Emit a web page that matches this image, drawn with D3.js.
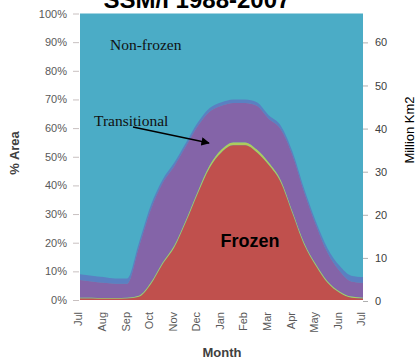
<!DOCTYPE html>
<html>
<head>
<meta charset="utf-8">
<script src="https://cdn.jsdelivr.net/npm/d3@7/dist/d3.min.js"></script>
<style>
  html, body { margin: 0; padding: 0; background: #ffffff; }
  svg { display: block; }
</style>
</head>
<body>
<svg id="chart" width="417" height="361"></svg>
<script>
// ---- data (percent of area, sampled every half month from 1 Jul) ----
const monthLabels = ["Jul","Aug","Sep","Oct","Nov","Dec","Jan","Feb","Mar","Apr","May","Jun","Jul"];
const samplePos = [0,0.5,1,1.5,2,2.5,3,3.5,4,4.5,5,5.5,6,6.5,7,7.5,8,8.5,9,9.5,10,10.5,11,11.5,12];
const frozen       = [0.5,0.5,0.4,0.4,0.5,1.1,5.4,12.4,18.3,27.3,37.2,46.1,51.5,54,54,51.5,47.1,41.2,30.3,19.3,11.9,5.9,2.5,0.8,0.5];
const inverse      = [0.3,0.3,0.3,0.3,0.3,0.4,0.6,0.6,0.7,0.7,0.8,0.9,1.0,1.0,1.0,1.0,0.9,0.8,0.7,0.7,0.6,0.6,0.5,0.4,0.3];
const transitional = [6.2,5.7,5.3,5.0,4.9,17,25.5,27.8,27.8,25.8,22.8,18.8,15.3,13.8,13.8,15.3,15.3,17.8,19.8,17.8,13.8,10,7.2,5.3,5.2];
const mixed        = [2,2,2,1.8,1.8,1.5,1.5,1.2,1.2,1.2,1.2,1.2,1.2,1.2,1.2,1.2,1.2,1.2,1.2,1.2,1.2,1.5,1.8,2,2];
const nonFrozen    = [91,91.5,92,92.5,92.5,80,67,58,52,45,38,33,31,30,30,31,35.5,39,48,61,72.5,82,88,91.5,92];
const pctTicks = [0,10,20,30,40,50,60,70,80,90,100];
const kmTicks = [0,10,20,30,40,50,60];

const seriesKeys = ["frozen","inverse","transitional","mixed","nonFrozen"];
const seriesData = {frozen, inverse, transitional, mixed, nonFrozen};
const colors = {frozen:"#C0504D", inverse:"#AECB5C", transitional:"#8464A8", mixed:"#5A80C2", nonFrozen:"#4BACC6"};

const table = samplePos.map((p,i) => {
  const row = {pos: p};
  seriesKeys.forEach(k => row[k] = seriesData[k][i]);
  return row;
});

const svg = d3.select("#chart");
const x = d3.scaleLinear().domain([0,12]).range([80,363]);
const y = d3.scaleLinear().domain([0,100]).range([300,13.5]);
const yR = d3.scaleLinear().domain([0,66.7]).range([301,13.5]);

const stack = d3.stack().keys(seriesKeys);
const layers = stack(table);

const area = d3.area()
  .x(d => x(d.data.pos))
  .y0(d => y(d[0]))
  .y1(d => y(Math.min(100, d[1])))
  .curve(d3.curveMonotoneX);

svg.append("g").selectAll("path")
  .data(layers.slice().reverse())
  .join("path")
  .attr("d", (l) => {
    if (l.key === "nonFrozen") {
      return d3.area().x(d => x(d.data.pos)).y0(y(0)).y1(y(100))(l);
    }
    return area(l);
  })
  .attr("fill", l => colors[l.key]);

// left axis
const yAxis = d3.axisLeft(y).tickValues(pctTicks).tickFormat(d => d + "%").tickSize(6).tickPadding(6);
const gL = svg.append("g").attr("transform","translate(79,0)").call(yAxis);
gL.select(".domain").remove();
gL.selectAll(".tick line").attr("stroke","#c8c0c0");
gL.selectAll(".tick text").attr("fill","#595959").style("font-family","Liberation Sans, Arial, sans-serif").style("font-size","11px");

// right axis
const yAxisR = d3.axisRight(yR).tickValues(kmTicks).tickSize(5).tickPadding(7);
const gR = svg.append("g").attr("transform","translate(363,0)").call(yAxisR);
gR.select(".domain").remove();
gR.selectAll(".tick line").attr("stroke","#b0b0b0");
gR.selectAll(".tick text").attr("fill","#404040").style("font-family","Liberation Sans, Arial, sans-serif").style("font-size","11px");

// bottom axis
const xAxis = d3.axisBottom(x).tickValues(d3.range(13)).tickFormat(i => monthLabels[i]).tickSize(0).tickPadding(0);
const gB = svg.append("g").attr("transform","translate(-2,300)").call(xAxis);
gB.select(".domain").remove();
gB.selectAll(".tick text")
  .attr("fill","#595959")
  .style("font-family","Liberation Sans, Arial, sans-serif").style("font-size","11px")
  .attr("text-anchor","end")
  .attr("dy","0.35em")
  .attr("transform","translate(0,12) rotate(-90)")
  .attr("y",0).attr("x",0);

// title
svg.append("text").attr("x",197).attr("y",8).attr("text-anchor","middle")
  .style("font-family","Liberation Sans, Arial, sans-serif").style("font-weight","bold").style("font-size","24px")
  .attr("fill","#000").text("SSM/I 1988-2007");

// axis titles
svg.append("text").attr("transform","translate(19,153) rotate(-90)").attr("text-anchor","middle")
  .style("font-family","Liberation Sans, Arial, sans-serif").style("font-weight","bold").style("font-size","13px")
  .attr("fill","#404040").text("% Area");
svg.append("text").attr("transform","translate(414,130) rotate(-90)").attr("text-anchor","middle")
  .style("font-family","Liberation Sans, Arial, sans-serif").style("font-size","13px")
  .attr("fill","#000").text("Million Km2");
svg.append("text").attr("x",222).attr("y",357).attr("text-anchor","middle")
  .style("font-family","Liberation Sans, Arial, sans-serif").style("font-weight","bold").style("font-size","13px")
  .attr("fill","#404040").text("Month");

// annotations
svg.append("text").attr("x",110).attr("y",50)
  .style("font-family","Liberation Serif, Times New Roman, serif").style("font-size","15.5px")
  .attr("fill","#111").text("Non-frozen");
svg.append("text").attr("x",94).attr("y",126)
  .style("font-family","Liberation Serif, Times New Roman, serif").style("font-size","15.5px")
  .attr("fill","#111").text("Transitional");
svg.append("defs").append("marker").attr("id","arr").attr("viewBox","0 0 10 10")
  .attr("refX",9).attr("refY",5).attr("markerWidth",6).attr("markerHeight",6).attr("orient","auto")
  .append("path").attr("d","M0,0 L10,5 L0,10 z").attr("fill","#000");
svg.append("line").attr("x1",133).attr("y1",127).attr("x2",209).attr("y2",143)
  .attr("stroke","#000").attr("stroke-width",1.4).attr("marker-end","url(#arr)");
svg.append("text").attr("x",250).attr("y",247).attr("text-anchor","middle")
  .style("font-family","Liberation Sans, Arial, sans-serif").style("font-weight","bold").style("font-size","18px")
  .attr("fill","#000").text("Frozen");
</script>
</body>
</html>
